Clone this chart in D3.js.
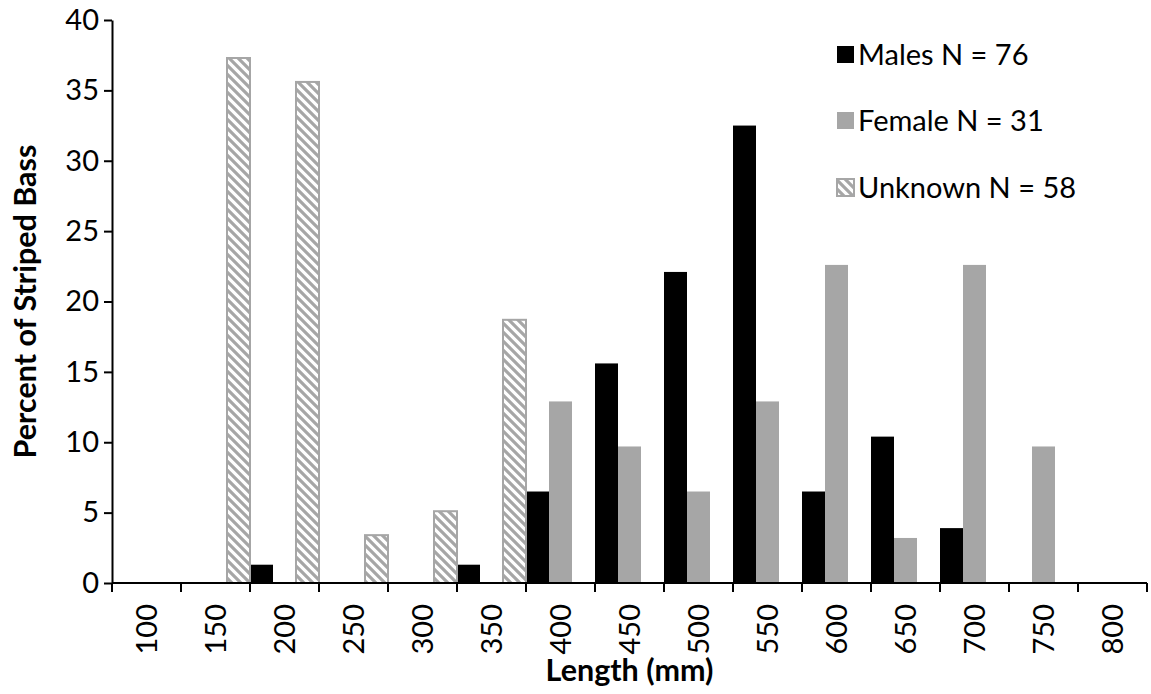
<!DOCTYPE html>
<html>
<head>
<meta charset="utf-8">
<script src="https://cdn.jsdelivr.net/npm/d3@7"></script>
<style>
  html, body { margin: 0; padding: 0; background: #fff; }
  svg { display: block; font-family: Lato, "Open Sans", sans-serif; }
</style>
</head>
<body>
<svg id="chart" width="1151" height="694"></svg>
<script>
// ---- data ----
const categories = ["100","150","200","250","300","350","400","450","500","550","600","650","700","750","800"];
const males   = [0, 0, 1.3, 0, 0, 1.3, 6.5, 15.6, 22.1, 32.5, 6.5, 10.4, 3.9, 0, 0];
const females = [0, 0, 0, 0, 0, 0, 12.9, 9.7, 6.5, 12.9, 22.6, 3.2, 22.6, 9.7, 0];
const unknown = [0, 37.3, 35.6, 3.4, 5.1, 18.7, 0, 0, 0, 0, 0, 0, 0, 0, 0];
const seriesNames = ["Males N = 76", "Female N = 31", "Unknown N = 58"];
const yTicks = [0, 5, 10, 15, 20, 25, 30, 35, 40];
const xTitle = "Length (mm)";
const yTitle = "Percent of Striped Bass";

const seriesValues = [males, females, unknown];
const GRAY = "#a6a6a6";
const FS = 29;      // tick / legend font size
const TFS = 30.5;   // axis title font size

const svg = d3.select("#chart");

// hatch pattern for Unknown
const defs = svg.append("defs");
const pat = defs.append("pattern")
  .attr("id", "hatch")
  .attr("patternUnits", "userSpaceOnUse")
  .attr("width", 9).attr("height", 9);
pat.append("rect").attr("width", 9).attr("height", 9).attr("fill", "#fff");
pat.append("path")
  .attr("d", "M-2,-2 L11,11 M-2,7 L2,11 M7,-2 L11,2")
  .attr("stroke", GRAY).attr("stroke-width", 3.2);

const fills = ["#000000", GRAY, "url(#hatch)"];
const strokes = ["none", "none", GRAY];

// scales
const x = d3.scaleBand().domain(categories).range([112, 1147]).padding(0);
const sub = d3.scaleBand().domain([0, 1, 2]).range([0, x.bandwidth()]).padding(0);
const y = d3.scaleLinear().domain([0, 40]).range([583, 20]);

// bars
const barData = [];
seriesValues.forEach((vals, s) => {
  vals.forEach((v, i) => { if (v > 0) barData.push({ s, cat: categories[i], v }); });
});
svg.append("g").selectAll("rect").data(barData).join("rect")
  .attr("x", d => x(d.cat) + sub(d.s))
  .attr("y", d => y(d.v))
  .attr("width", sub.bandwidth())
  .attr("height", d => y(0) - y(d.v))
  .attr("fill", d => fills[d.s])
  .attr("stroke", d => strokes[d.s])
  .attr("stroke-width", 2);

// y axis
const yAxis = svg.append("g")
  .attr("transform", "translate(112,0)")
  .call(d3.axisLeft(y).tickValues(yTicks).tickSize(8).tickPadding(5).tickSizeOuter(0));
yAxis.select(".domain").attr("stroke", "#000").attr("stroke-width", 2);
yAxis.selectAll(".tick line").attr("stroke", "#000").attr("stroke-width", 2);
yAxis.selectAll(".tick text")
  .attr("font-family", "Lato, 'Open Sans', sans-serif")
  .attr("font-size", FS).attr("fill", "#000");

// x axis line
svg.append("line")
  .attr("x1", x.range()[0]).attr("x2", x.range()[1])
  .attr("y1", y(0)).attr("y2", y(0))
  .attr("stroke", "#000").attr("stroke-width", 2);

// x boundary ticks
const boundaries = categories.map(c => x(c)).concat([x(categories[categories.length - 1]) + x.bandwidth()]);
svg.append("g").selectAll("line").data(boundaries).join("line")
  .attr("x1", d => d).attr("x2", d => d)
  .attr("y1", y(0)).attr("y2", y(0) + 9)
  .attr("stroke", "#000").attr("stroke-width", 2);

// x labels (rotated)
svg.append("g").selectAll("text").data(categories).join("text")
  .attr("transform", d => `translate(${x(d) + x.bandwidth() / 2},604) rotate(-90)`)
  .attr("text-anchor", "end")
  .attr("dy", "0.36em")
  .attr("font-size", FS)
  .attr("fill", "#000")
  .text(d => d);

// axis titles
svg.append("text")
  .attr("x", (x.range()[0] + x.range()[1]) / 2)
  .attr("y", 681)
  .attr("text-anchor", "middle")
  .attr("font-weight", "bold")
  .attr("font-size", TFS)
  .text(xTitle);

svg.append("text")
  .attr("transform", `translate(36,${(y(0) + y(40)) / 2}) rotate(-90)`)
  .attr("text-anchor", "middle")
  .attr("font-weight", "bold")
  .attr("font-size", TFS)
  .text(yTitle);

// legend
const legendY = [55, 121, 188];
const lg = svg.append("g");
seriesNames.forEach((name, i) => {
  lg.append("rect")
    .attr("x", 837).attr("y", legendY[i] - 9)
    .attr("width", 17).attr("height", 17)
    .attr("fill", fills[i])
    .attr("stroke", strokes[i]).attr("stroke-width", 2);
  lg.append("text")
    .attr("x", 858).attr("y", legendY[i])
    .attr("dy", "0.36em")
    .attr("font-size", FS)
    .attr("fill", "#000")
    .text(name);
});
</script>
</body>
</html>
